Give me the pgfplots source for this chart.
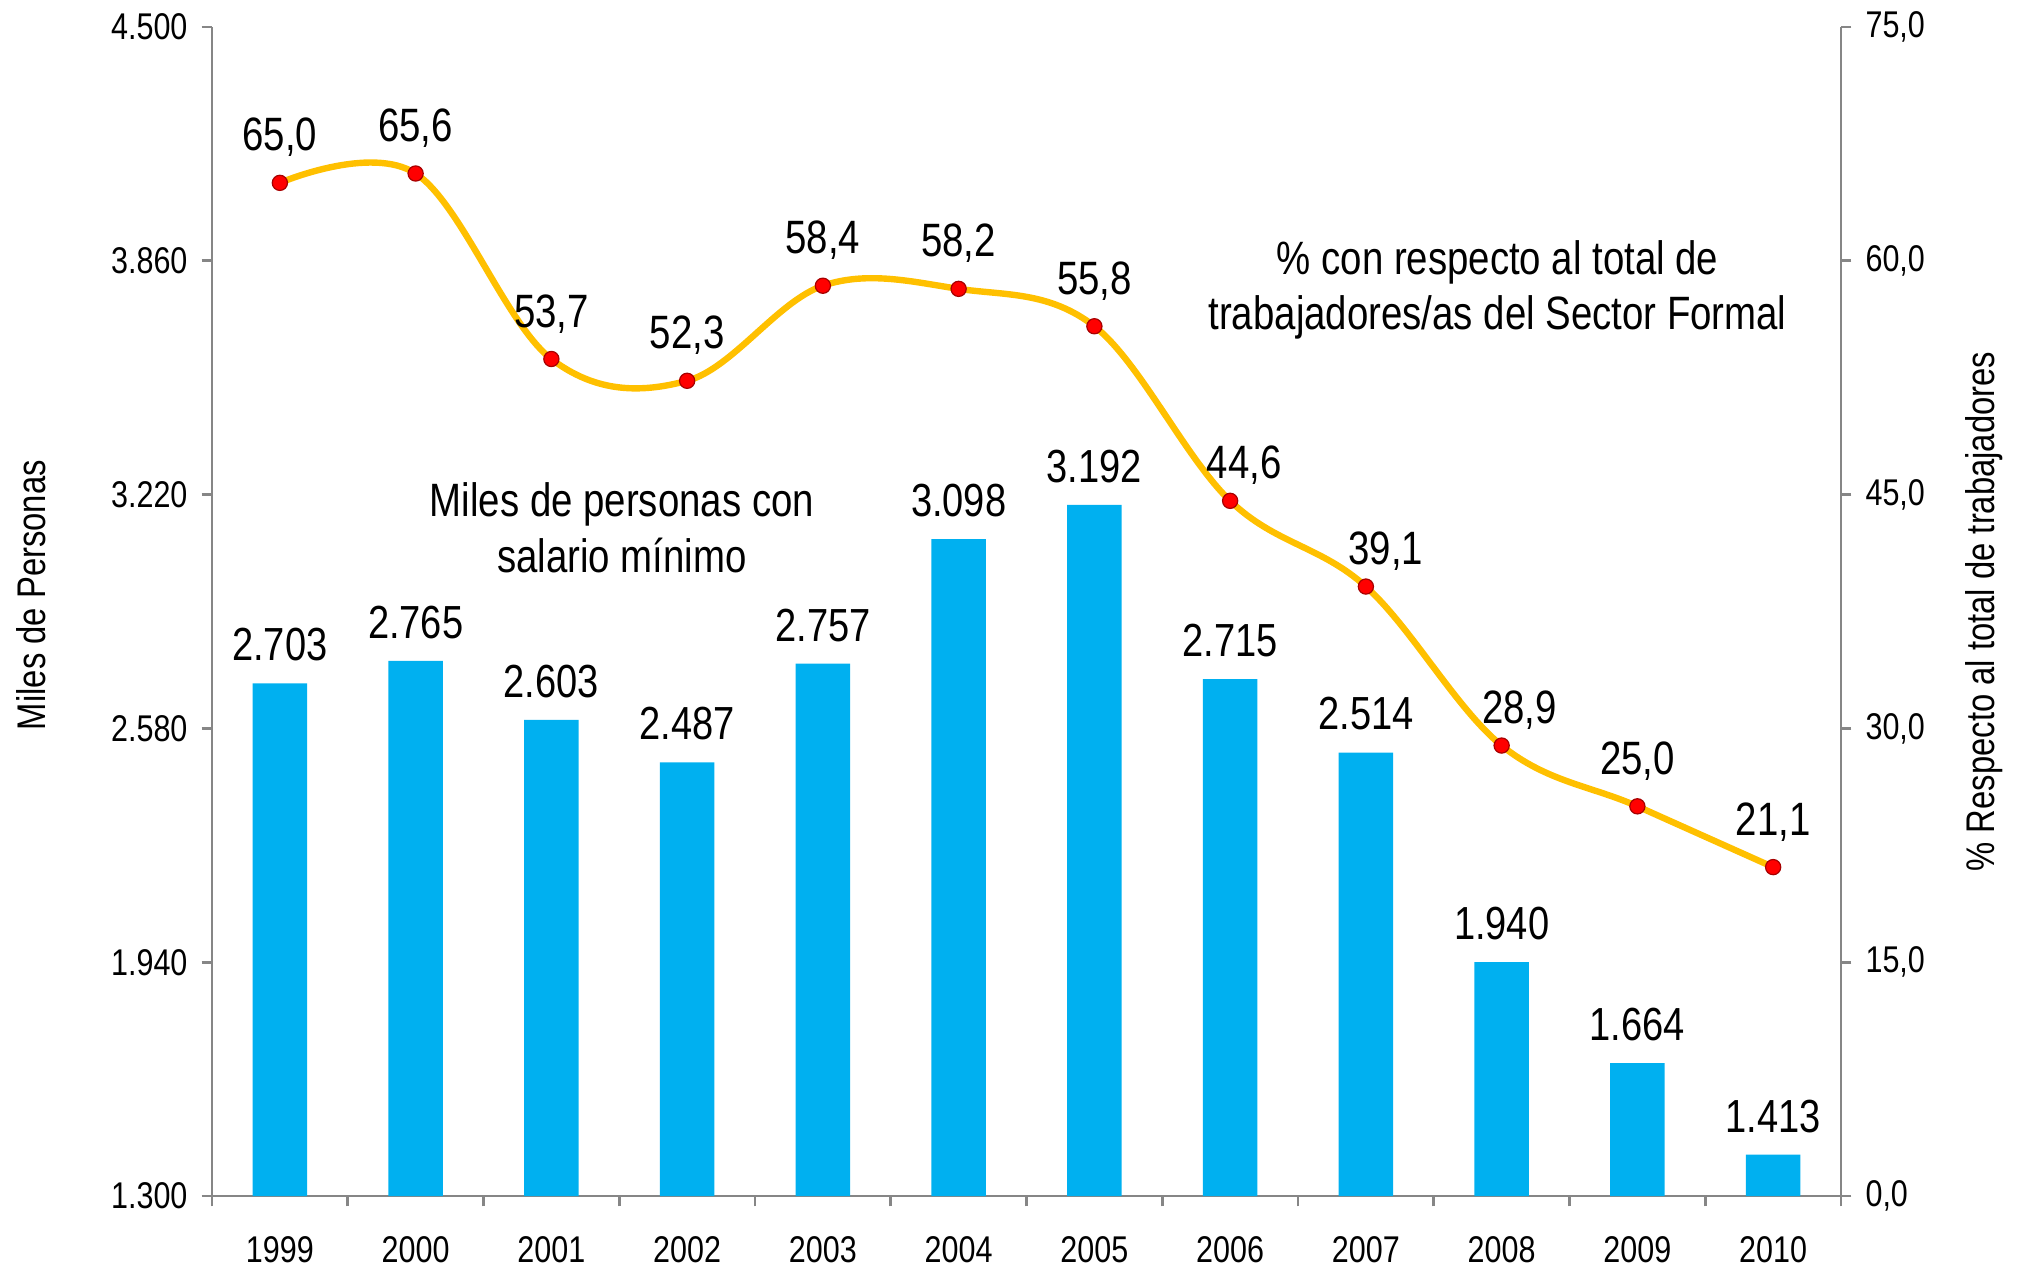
\documentclass[border=0pt]{standalone}
\usepackage{fontspec}
\setmainfont{Liberation Sans}[FakeStretch=0.82]
\usepackage{pgfplots}
\usepackage{pgfplotstable}
\pgfplotsset{compat=1.18}
\definecolor{barazul}{RGB}{0,176,240}
\definecolor{oro}{RGB}{255,192,0}
\definecolor{gris}{RGB}{134,134,134}

% miles de personas con salario minimo
\pgfplotstableread{
x y
0 2703
1 2765
2 2603
3 2487
4 2757
5 3098
6 3192
7 2715
8 2514
9 1940
10 1664
11 1413
}\salario

% porcentaje respecto al total (dx, dy: desplazamiento de la etiqueta)
\pgfplotstableread{
x y dx dy
0 65.0 0 0
1 65.6 0 0
2 53.7 0 0
3 52.3 0 0
4 58.4 0 0
5 58.2 0 0
6 55.8 0 0
7 44.6 3.5 -2.5
8 39.1 5 -2.5
9 28.9 4.5 -2.5
10 25.0 0 0
11 21.1 0 0
}\porcentaje

\pgfplotsset{
  /pgf/number format/assume math mode=true,
  comun/.style={
    at={(0pt,0pt)}, anchor=south west,
    width=407.25pt, height=292.25pt, scale only axis,
    xmin=-0.5, xmax=11.5,
    axis line style={gris, line width=0.7pt, -},
    tick style={gris, line width=0.7pt},
    tick align=outside,
    major tick length=2.6pt,
    minor tick length=2.6pt,
    tick label style={font=\fontsize{9.3}{11}\selectfont},
    label style={font=\fontsize{9.6}{11}\selectfont},
  },
}

\begin{document}
\begin{tikzpicture}
\useasboundingbox (-53pt,-19pt) rectangle (452pt,299pt);

\begin{axis}[
  comun,
  ymin=1300, ymax=4500,
  axis x line*=bottom, axis y line*=left,
  xtick={0,...,11},
  xticklabels={1999,2000,2001,2002,2003,2004,2005,2006,2007,2008,2009,2010},
  major x tick style={draw=none},
  minor xtick={-0.5,0.5,...,11.5},
  xticklabel style={yshift=-4pt},
  ytick={1300,1940,2580,3220,3860,4500},
  yticklabels={\mbox{1.300},\mbox{1.940},\mbox{2.580},\mbox{3.220},\mbox{3.860},\mbox{4.500}},
  ylabel={Miles de Personas},
  every axis y label/.style={at={(axis description cs:-0.111,0.514)}, rotate=90, anchor=center},
]
\addplot[ybar, bar width=0.4, fill=barazul, draw=none,
  nodes near coords={\pgfmathprintnumber[fixed,precision=0,1000 sep={.}]{\pgfplotspointmeta}},
  nodes near coords style={font=\fontsize{11.6}{13}\selectfont, yshift=2pt}]
  table[x=x, y=y] {\salario};

\node[align=center, font=\fontsize{11.7}{13.9}\selectfont] at (axis cs:2.52,3129)
  {Miles de personas con\\salario mínimo};
\node[align=center, font=\fontsize{11.7}{13.9}\selectfont] at (axis cs:8.97,3780)
  {\% con respecto al total de\\trabajadores/as del Sector Formal};
\end{axis}

\begin{axis}[
  comun,
  ymin=0, ymax=75,
  axis x line=none, axis y line*=right,
  xtick=\empty,
  ytick={0,15,30,45,60,75},
  yticklabels={\mbox{0,0},\mbox{15,0},\mbox{30,0},\mbox{45,0},\mbox{60,0},\mbox{75,0}},
  ylabel={\% Respecto al total de trabajadores},
  every axis y label/.style={at={(axis description cs:1.088,0.5)}, rotate=90, anchor=center},
  clip=false,
]
\addplot[oro, line width=1.6pt, smooth, tension=0.6,
  mark=*, mark size=1.9pt, mark options={fill=red, draw=red!65!black, line width=0.3pt},
  point meta=y,
  visualization depends on={\thisrow{dx}\as\dx},
  visualization depends on={\thisrow{dy}\as\dy},
  nodes near coords={\pgfmathprintnumber[fixed,fixed zerofill,precision=1,use comma]{\pgfplotspointmeta}},
  nodes near coords style={font=\fontsize{11.7}{13}\selectfont, text=black, yshift=3pt},
  every node near coord/.append style={xshift=\dx pt, yshift=\dy pt}]
  table[x=x, y=y] {\porcentaje};
\end{axis}
\end{tikzpicture}
\end{document}
